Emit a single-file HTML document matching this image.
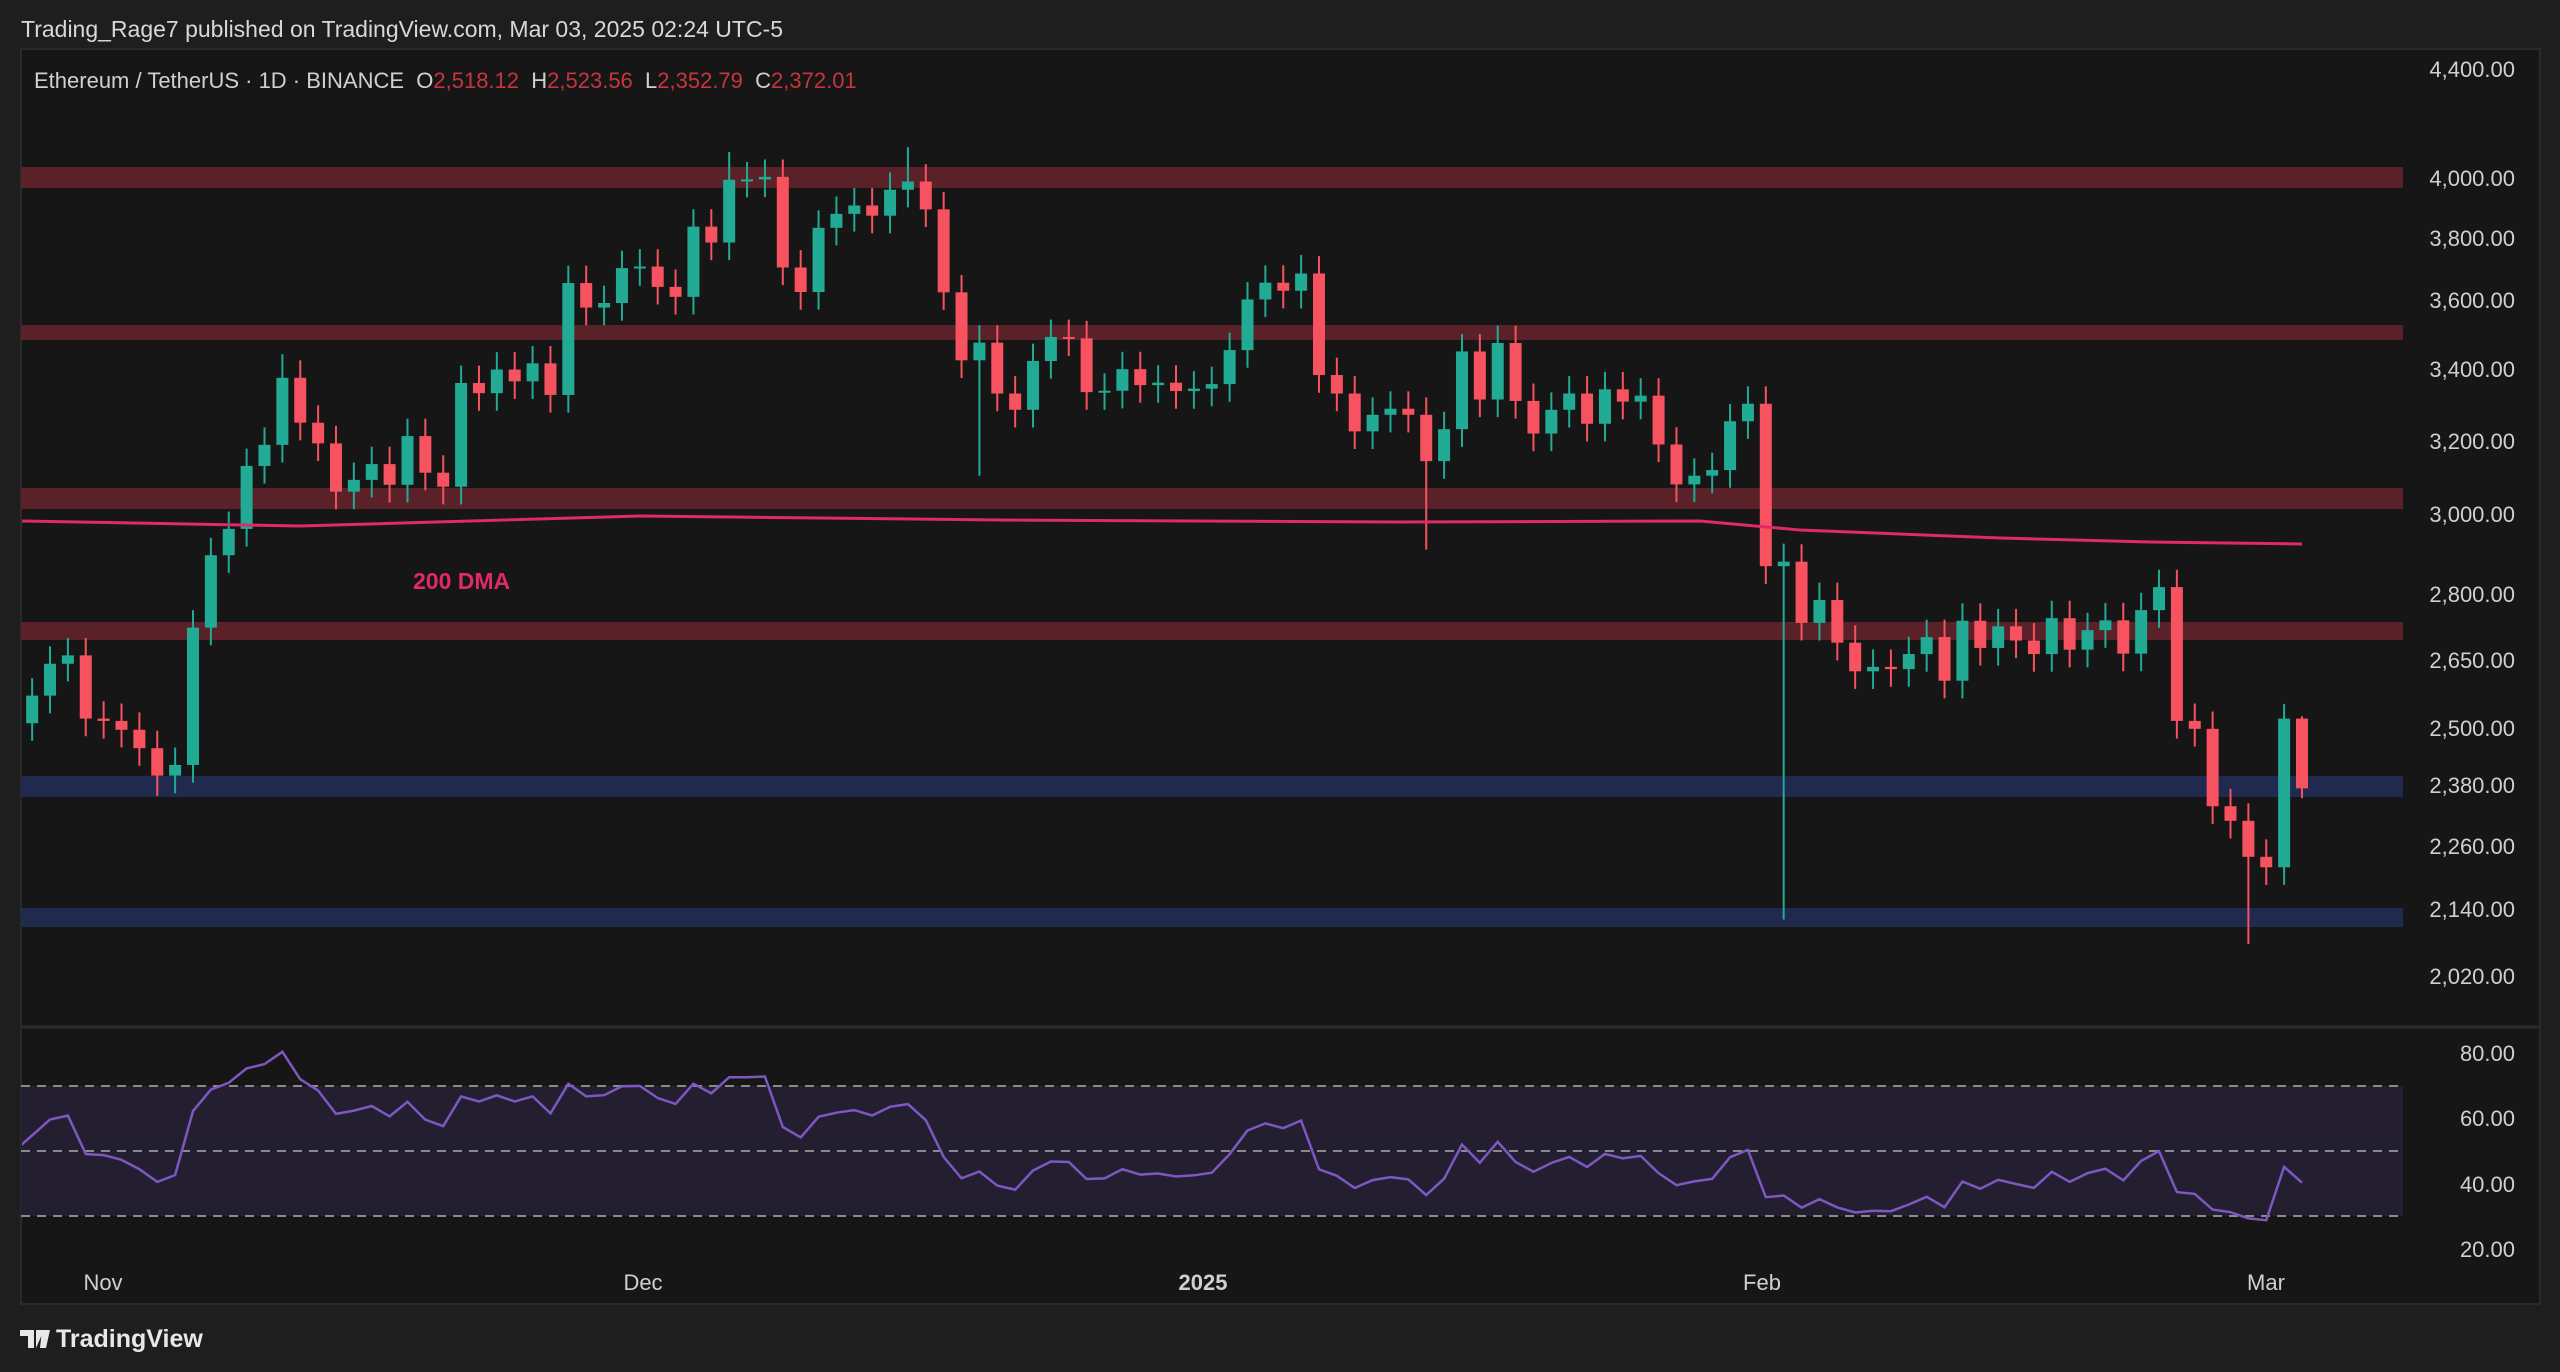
<!DOCTYPE html>
<html><head><meta charset="utf-8"><style>
html,body{margin:0;padding:0;background:#1e1e1e;width:2560px;height:1372px;overflow:hidden;font-family:"Liberation Sans",sans-serif}
svg{position:absolute;left:0;top:0}
</style></head><body>
<svg id="s" width="2560" height="1372" xmlns="http://www.w3.org/2000/svg">
<defs><clipPath id="cp"><rect x="22" y="50" width="2380" height="1250"/></clipPath></defs>
<rect x="0" y="0" width="2560" height="1372" fill="#1e1e1e"/>
<rect x="21" y="49" width="2519" height="1255" fill="#161616" stroke="#2a2a2a" stroke-width="2"/>
<line x1="21" y1="1027" x2="2540" y2="1027" stroke="#2c2c2c" stroke-width="3"/>
<text x="21" y="37" fill="#d8d8d8" font-size="23">Trading_Rage7 published on TradingView.com, Mar 03, 2025 02:24 UTC-5</text>
<text x="34" y="88" fill="#d0d0d0" font-size="22">Ethereum / TetherUS · 1D · BINANCE &#160;O<tspan fill="#c8343f">2,518.12</tspan>&#160; H<tspan fill="#c8343f">2,523.56</tspan>&#160; L<tspan fill="#c8343f">2,352.79</tspan>&#160; C<tspan fill="#c8343f">2,372.01</tspan></text>
<g id="bands"></g>
<g id="c" clip-path="url(#cp)"></g>
<g id="ax" fill="#d0d0d0" font-size="22"></g>
<text x="413" y="589" fill="#e0286a" font-size="23" font-weight="bold">200 DMA</text>
<g transform="translate(20,1326)"><path d="M0 4 h14 v18 h-6 v-12 h-8z M16 4 h8 l-8 18z M22 4 h8 l-4 18 h-6z" fill="#e8e8e8"/><text x="36" y="21" fill="#e8e8e8" font-size="25" font-weight="bold">TradingView</text></g>
</svg>
<script>
const NS="http://www.w3.org/2000/svg";
function el(t,a,p){const e=document.createElementNS(NS,t);for(const k in a)e.setAttribute(k,a[k]);(p||document.getElementById('c')).appendChild(e);return e;}
const Y=p=>178+1168*Math.log(4000/p);
const bands=document.getElementById('bands');
[[167,188,'#5a2128'],[325,340,'#5a2128'],[488,509,'#5a2128'],[622,640,'#5a2128'],[776,797,'#1f2a4e'],[908,927,'#1f2a4e']].forEach(b=>{el('rect',{x:21,y:b[0],width:2382,height:b[1]-b[0],fill:b[2]},bands);});
el('rect',{x:21,y:1086,width:2382,height:130,fill:'#231e30'},bands);
[1086,1151,1216].forEach(y=>el('line',{x1:21,y1:y,x2:2403,y2:y,stroke:'#8a8a8a','stroke-width':2,'stroke-dasharray':'9 7'},bands));
const closes=[2508,2568,2639,2658,2518,2513,2494,2455,2398,2420,2722,2896,2962,3126,3183,3371,3244,3187,3058,3089,3131,3076,3207,3108,3071,3356,3327,3395,3361,3413,3322,3656,3580,3594,3703,3708,3644,3613,3837,3785,3994,3995,4004,3705,3628,3833,3879,3907,3873,3960,3988,3894,3627,3422,3474,3326,3280,3420,3491,3487,3330,3334,3396,3350,3357,3333,3340,3353,3452,3605,3657,3632,3686,3379,3326,3220,3266,3283,3266,3139,3226,3448,3309,3473,3305,3214,3280,3326,3241,3338,3303,3320,3184,3077,3100,3115,3248,3297,2869,2880,2733,2787,2687,2622,2632,2627,2661,2700,2601,2738,2675,2725,2692,2661,2744,2671,2716,2739,2662,2763,2818,2513,2496,2336,2307,2237,2217,2518,2372];
const N=closes.length;
const ov={8:[null,2357],15:[3440,null],40:[4090,null],50:[4107,null],54:[null,3100]};
ov[closes.indexOf(3686)]=[3745,null];
ov[closes.indexOf(3139)]=[null,2910];
ov[closes.indexOf(2880)]=[2925,2120];
ov[N-4]=[null,2076];ov[N-2]=[2550,null];ov[N-1]=[2523,2352];
const s=(2302-193)/(N-1-10);
const X=i=>193+(i-10)*s;
let prev=2480;
closes.forEach((c,i)=>{const o=prev;prev=c;const up=c>=o;const col=up?'#22ab94':'#f7525f';
let h=Math.max(o,c)*1.015,l=Math.min(o,c)*0.985;if(ov[i]){if(ov[i][0])h=ov[i][0];if(ov[i][1])l=ov[i][1];}
const x=X(i);el('line',{x1:x,y1:Y(h),x2:x,y2:Y(l),stroke:col,'stroke-width':2});
const y1=Y(Math.max(o,c)),y2=Y(Math.min(o,c));el('rect',{x:x-6,y:y1,width:12,height:Math.max(2,y2-y1),fill:col});});
el('polyline',{points:'21,521 300,526 640,516 1000,520 1400,522 1700,521 1800,530 2000,538 2150,542 2302,544',fill:'none',stroke:'#e0286a','stroke-width':3});
let ag=22,al=22,pts=[];
closes.forEach((c,i)=>{if(i>0){const d=c-closes[i-1];ag=(ag*13+Math.max(d,0))/14;al=(al*13+Math.max(-d,0))/14;}
const r=100-100/(1+ag/al);pts.push(X(i).toFixed(1)+','+(1053+(80-r)*3.267).toFixed(1));});
el('polyline',{points:pts.join(' '),fill:'none',stroke:'#7e57c2','stroke-width':2.5});
const ax=document.getElementById('ax');
function t(x,y,s,a){const e=el('text',{x:x,y:y,'text-anchor':a||'start'},ax);e.textContent=s;}
[['4,400.00',69],['4,000.00',178],['3,800.00',238],['3,600.00',300],['3,400.00',369],['3,200.00',441],['3,000.00',514],['2,800.00',594],['2,650.00',660],['2,500.00',728],['2,380.00',785],['2,260.00',846],['2,140.00',909],['2,020.00',976],['80.00',1053],['60.00',1118],['40.00',1184],['20.00',1249]].forEach(a=>t(2515,a[1]+8,a[0],'end'));
[['Nov',103],['Dec',643],['Feb',1762],['Mar',2266]].forEach(a=>t(a[1],1290,a[0],'middle'));
const e=el('text',{x:1203,y:1290,'text-anchor':'middle','font-weight':'bold'},ax);e.textContent='2025';
</script>
</body></html>
